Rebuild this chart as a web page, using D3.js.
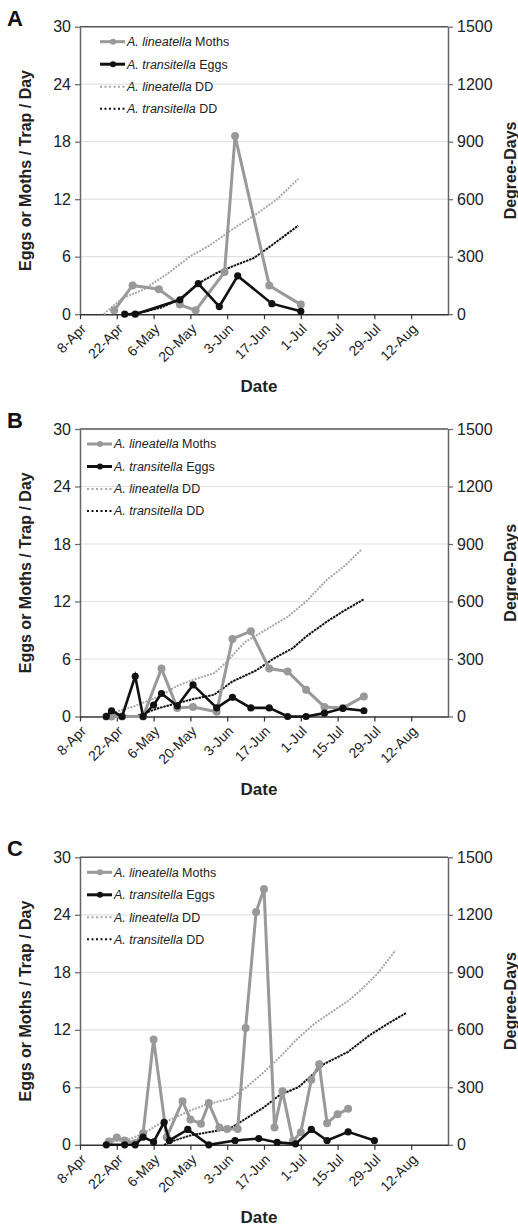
<!DOCTYPE html>
<html>
<head>
<meta charset="utf-8">
<script src="https://cdn.jsdelivr.net/npm/d3@7"></script>
<style>
  body { margin: 0; background: #fff; }
  text { font-family: "Liberation Sans", Arial, sans-serif; }
</style>
</head>
<body>
<svg id="chart" width="518" height="1227"></svg>
<script>
// axis ticks
var tickDates = ["4/08", "4/22", "5/06", "5/20", "6/03", "6/17", "7/01", "7/15", "7/29", "8/12"];
var eggTicks = [0, 6, 12, 18, 24, 30];
var ddTicks = [0, 300, 600, 900, 1200, 1500];

// panel A
var mothDatesA = ["4/21", "4/28", "5/08", "5/16", "5/22", "6/02", "6/06", "6/19", "7/01"];
var mothValsA = [0.4, 3.0, 2.6, 1.0, 0.4, 4.4, 18.6, 3.0, 1.0];
var eggDatesA = ["4/25", "4/29", "5/16", "5/23", "5/31", "6/07", "6/20", "7/01"];
var eggValsA = [0, 0, 1.5, 3.2, 0.8, 4.0, 1.1, 0.3];
var linDDDatesA = ["4/17", "4/24", "5/02", "5/11", "5/20", "5/27", "6/05", "6/14", "6/22", "6/30"];
var linDDA = [0, 83, 127, 208, 303, 356, 443, 522, 600, 706];
var trDDDatesA = ["4/26", "5/03", "5/09", "5/16", "5/23", "5/30", "6/06", "6/13", "6/20", "6/30"];
var trDDA = [0, 14, 35, 80, 160, 215, 255, 292, 360, 462];

// panel B
var mothDatesB = ["4/18", "4/20", "4/24", "5/02", "5/09", "5/15", "5/21", "5/30", "6/05", "6/12", "6/19", "6/26", "7/03", "7/10", "7/17", "7/25"];
var mothValsB = [0, 0, 0, 0, 5.0, 0.9, 1.0, 0.5, 8.1, 8.9, 5.0, 4.7, 2.8, 1.0, 0.9, 2.1];
var eggDatesB = ["4/18", "4/20", "4/24", "4/29", "5/02", "5/06", "5/09", "5/15", "5/21", "5/30", "6/05", "6/12", "6/19", "6/26", "7/03", "7/10", "7/17", "7/25"];
var eggValsB = [0, 0.6, 0, 4.2, 0, 1.2, 2.4, 1.1, 3.3, 0.9, 2.0, 0.9, 0.9, 0, 0, 0.35, 0.85, 0.6];
var linDDDatesB = ["4/19", "4/28", "5/08", "5/15", "5/21", "5/29", "6/03", "6/07", "6/10", "6/18", "6/26", "7/03", "7/11", "7/18", "7/24"];
var linDDB = [15, 50, 104, 160, 191, 226, 287, 350, 390, 455, 520, 600, 714, 790, 870];
var trDDDatesB = ["4/29", "5/02", "5/08", "5/21", "5/29", "6/05", "6/14", "6/21", "6/28", "7/03", "7/11", "7/17", "7/25"];
var trDDB = [0, 15, 44, 91, 113, 183, 240, 305, 357, 417, 496, 548, 612];

// panel C
var mothDatesC = ["4/19", "4/22", "4/25", "4/29", "5/02", "5/06", "5/11", "5/17", "5/20", "5/24", "5/27", "5/31", "6/03", "6/07", "6/10", "6/14", "6/17", "6/21", "6/24", "6/28", "7/01", "7/05", "7/08", "7/11", "7/15", "7/19"];
var mothValsC = [0.35, 0.75, 0.45, 0.2, 1.2, 11.0, 0.8, 4.55, 2.65, 2.2, 4.35, 1.8, 1.65, 1.65, 12.2, 24.3, 26.7, 1.8, 5.6, 0.4, 1.3, 6.8, 8.4, 2.25, 3.2, 3.75];
var eggDatesC = ["4/18", "4/25", "4/29", "5/02", "5/06", "5/10", "5/12", "5/19", "5/27", "6/06", "6/15", "6/22", "6/29", "7/05", "7/11", "7/19", "7/29"];
var eggValsC = [0, 0, 0, 0.8, 0.3, 2.35, 0.45, 1.6, 0, 0.45, 0.65, 0.25, 0.1, 1.6, 0.45, 1.35, 0.45];
var linDDDatesC = ["4/18", "4/27", "5/02", "5/07", "5/13", "5/20", "5/27", "6/04", "6/10", "6/17", "6/23", "6/29", "7/06", "7/14", "7/19", "7/24", "7/30", "8/06"];
var linDDC = [10, 31, 57, 100, 135, 179, 214, 240, 297, 379, 457, 544, 630, 705, 750, 810, 890, 1014];
var trDDDatesC = ["5/10", "5/14", "5/20", "5/27", "6/04", "6/10", "6/17", "6/23", "6/30", "7/05", "7/10", "7/19", "7/27", "8/03", "8/10"];
var trDDC = [0, 23, 49, 66, 85, 136, 196, 260, 300, 360, 423, 485, 570, 631, 687];

var parse = d3.timeParse("%m/%d");
var svg = d3.select("#chart");

var left = 80, right = 448, plotH = 287.5;
var x = d3.scaleTime().domain([parse("4/08"), parse("8/26")]).range([left, right]);

function pairs(dates, vals) {
  return dates.map(function (d, i) { return { date: parse(d), v: vals[i] }; });
}

var panels = [
  { letter: "A", top: 26.7, legendX: 100, moths: pairs(mothDatesA, mothValsA), eggs: pairs(eggDatesA, eggValsA), linDD: pairs(linDDDatesA, linDDA), trDD: pairs(trDDDatesA, trDDA) },
  { letter: "B", top: 429, legendX: 87, moths: pairs(mothDatesB, mothValsB), eggs: pairs(eggDatesB, eggValsB), linDD: pairs(linDDDatesB, linDDB), trDD: pairs(trDDDatesB, trDDB) },
  { letter: "C", top: 857.3, legendX: 87, moths: pairs(mothDatesC, mothValsC), eggs: pairs(eggDatesC, eggValsC), linDD: pairs(linDDDatesC, linDDC), trDD: pairs(trDDDatesC, trDDC) }
];

panels.forEach(function (p) {
  var top = p.top, bottom = p.top + plotH;
  var y = d3.scaleLinear().domain([0, 30]).range([bottom, top]);
  var yDD = d3.scaleLinear().domain([0, 1500]).range([bottom, top]);
  var g = svg.append("g");

  // gridlines
  g.selectAll(".grid").data(eggTicks.slice(1, 5)).enter().append("line")
    .attr("x1", left).attr("x2", right)
    .attr("y1", function (d) { return y(d); }).attr("y2", function (d) { return y(d); })
    .attr("stroke", "#e2e2e2").attr("stroke-width", 1.2);
  g.append("line").attr("x1", left).attr("x2", right).attr("y1", top).attr("y2", top)
    .attr("stroke", "#555").attr("stroke-width", 1.5);

  // axes
  var yl = g.append("g").attr("transform", "translate(" + left + ",0)")
    .call(d3.axisLeft(y).tickValues(eggTicks).tickSize(5).tickPadding(4).tickSizeOuter(0));
  var yr = g.append("g").attr("transform", "translate(" + right + ",0)")
    .call(d3.axisRight(yDD).tickValues(ddTicks).tickFormat(d3.format("d"))
      .tickSize(5).tickPadding(4).tickSizeOuter(0));
  [yl, yr].forEach(function (a) {
    a.select(".domain").attr("stroke", "#666").attr("stroke-width", 1.5);
    a.selectAll(".tick line").attr("stroke", "#666").attr("stroke-width", 1.2);
    a.selectAll("text").attr("font-size", 16).attr("fill", "#222")
      .style("font-family", '"Liberation Sans", Arial, sans-serif');
  });

  var xa = g.append("g").attr("transform", "translate(0," + bottom + ")")
    .call(d3.axisBottom(x).tickValues(tickDates.map(parse)).tickFormat(d3.timeFormat("%-d-%b"))
      .tickSize(5).tickSizeOuter(0));
  xa.select(".domain").attr("stroke", "#333").attr("stroke-width", 1.5);
  xa.selectAll(".tick line").attr("stroke", "#333").attr("stroke-width", 1.2);
  xa.selectAll("text")
    .attr("x", 0).attr("y", 0).attr("dy", "0.35em")
    .attr("text-anchor", "end")
    .attr("transform", "translate(3,12) rotate(-45)")
    .attr("font-size", 14).attr("fill", "#222")
    .style("font-family", '"Liberation Sans", Arial, sans-serif');

  // degree-day lines
  var ddLine = d3.line().x(function (d) { return x(d.date); }).y(function (d) { return yDD(d.v); });
  g.append("path").datum(p.linDD).attr("d", ddLine)
    .attr("fill", "none").attr("stroke", "#a8a8a8").attr("stroke-width", 2)
    .attr("stroke-dasharray", "2,1.2");
  g.append("path").datum(p.trDD).attr("d", ddLine)
    .attr("fill", "none").attr("stroke", "#111").attr("stroke-width", 2)
    .attr("stroke-dasharray", "2.5,0.8");

  // moths and eggs
  var line = d3.line().x(function (d) { return x(d.date); }).y(function (d) { return y(d.v); });
  g.append("path").datum(p.moths).attr("d", line)
    .attr("fill", "none").attr("stroke", "#999").attr("stroke-width", 3);
  g.selectAll(".moth").data(p.moths).enter().append("circle")
    .attr("cx", function (d) { return x(d.date); }).attr("cy", function (d) { return y(d.v); })
    .attr("r", 4).attr("fill", "#999");
  g.append("path").datum(p.eggs).attr("d", line)
    .attr("fill", "none").attr("stroke", "#111").attr("stroke-width", 2.6);
  g.selectAll(".egg").data(p.eggs).enter().append("circle")
    .attr("cx", function (d) { return x(d.date); }).attr("cy", function (d) { return y(d.v); })
    .attr("r", 3.6).attr("fill", "#111");

  // legend
  var items = [
    { sp: "A. lineatella", tx: " Moths", color: "#999", w: 3, dash: null, dot: true },
    { sp: "A. transitella", tx: " Eggs", color: "#111", w: 3, dash: null, dot: true },
    { sp: "A. lineatella", tx: " DD", color: "#a8a8a8", w: 2, dash: "2,2.5", dot: false },
    { sp: "A. transitella", tx: " DD", color: "#111", w: 2, dash: "2,2.5", dot: false }
  ];
  var rowY = [15, 37.5, 60, 82];
  items.forEach(function (it, i) {
    var ly = top + rowY[i], lx = p.legendX;
    g.append("line").attr("x1", lx).attr("x2", lx + 25).attr("y1", ly).attr("y2", ly)
      .attr("stroke", it.color).attr("stroke-width", it.w)
      .attr("stroke-dasharray", it.dash);
    if (it.dot) g.append("circle").attr("cx", lx + 13).attr("cy", ly).attr("r", 3).attr("fill", it.color);
    var t = g.append("text").attr("x", lx + 27).attr("y", ly).attr("dy", "0.35em")
      .attr("font-size", 12.5).attr("fill", "#222");
    t.append("tspan").attr("font-style", "italic").text(it.sp);
    t.append("tspan").text(it.tx);
  });

  // titles
  g.append("text").attr("x", 7).attr("y", top - 1).attr("font-size", 22).attr("font-weight", "bold")
    .attr("fill", "#111").text(p.letter);
  g.append("text").attr("transform", "translate(31," + (top + plotH / 2) + ") rotate(-90)")
    .attr("text-anchor", "middle").attr("font-size", 16).attr("font-weight", "bold").attr("fill", "#222")
    .text("Eggs or Moths / Trap / Day");
  g.append("text").attr("transform", "translate(516," + (top + plotH / 2) + ") rotate(-90)")
    .attr("text-anchor", "middle").attr("font-size", 16).attr("font-weight", "bold").attr("fill", "#222")
    .text("Degree-Days");
  g.append("text").attr("x", (left + right) / 2 - 5).attr("y", bottom + 78)
    .attr("text-anchor", "middle").attr("font-size", 17).attr("font-weight", "bold").attr("fill", "#222")
    .text("Date");
});
</script>
</body>
</html>
